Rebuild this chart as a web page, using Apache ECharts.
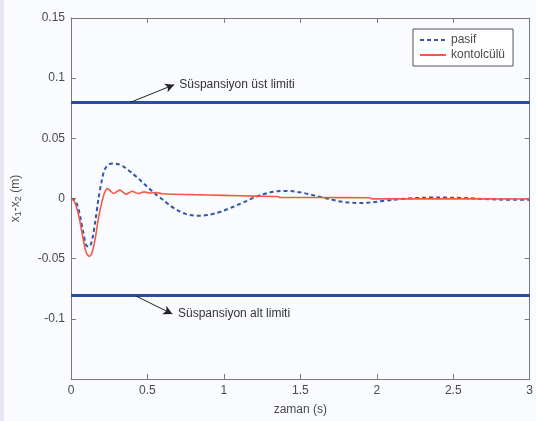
<!DOCTYPE html>
<html>
<head>
<meta charset="utf-8">
<script src="https://cdn.jsdelivr.net/npm/echarts@6/dist/echarts.min.js"></script>
<style>
html,body{margin:0;padding:0;background:#f9fbfe;}
#c{width:536px;height:421px;}
</style>
</head>
<body>
<div id="c"></div>
<script>
// ---- data ----
var timePasif = [0,0.02,0.04,0.06,0.08,0.1,0.12,0.14,0.16,0.18,0.2,0.22,0.25,0.28,0.31,0.35,0.4,0.45,0.5,0.55,0.6,0.65,0.7,0.75,0.8,0.85,0.9,0.95,1.0,1.05,1.1,1.15,1.2,1.25,1.3,1.35,1.4,1.45,1.5,1.55,1.6,1.65,1.7,1.75,1.8,1.85,1.9,1.95,2.0,2.1,2.2,2.3,2.4,2.5,2.6,2.7,2.8,2.9,3.0];
var pasif = [0,-0.001,-0.005,-0.015,-0.028,-0.039,-0.040,-0.033,-0.018,0.000,0.014,0.024,0.0285,0.029,0.0285,0.026,0.021,0.0155,0.0095,0.004,-0.001,-0.006,-0.010,-0.0128,-0.0142,-0.0143,-0.0135,-0.0122,-0.0100,-0.0075,-0.0048,-0.0020,0.0010,0.0032,0.0050,0.0060,0.0063,0.0060,0.0051,0.0038,0.0022,0.0007,-0.0008,-0.0022,-0.0031,-0.0036,-0.0037,-0.0034,-0.0027,-0.0012,0.0000,0.0006,0.0008,0.0006,0.0002,-0.0004,-0.0009,-0.0011,-0.0010];
var timeKontrol = [0,0.02,0.04,0.06,0.08,0.1,0.12,0.14,0.16,0.18,0.2,0.22,0.24,0.26,0.28,0.30,0.32,0.34,0.36,0.38,0.40,0.42,0.44,0.46,0.48,0.50,0.52,0.55,0.6,0.8,1.0,1.2,1.35,1.37,1.6,1.95,1.97,2.5,3.0];
var kontrol = [0,-0.002,-0.009,-0.020,-0.034,-0.045,-0.048,-0.044,-0.032,-0.016,-0.004,0.005,0.0082,0.006,0.0042,0.0058,0.0070,0.0052,0.0036,0.0048,0.0060,0.0050,0.0041,0.0050,0.0055,0.0049,0.0046,0.0050,0.0040,0.0032,0.0026,0.0020,0.0017,0.0009,0.0008,0.0006,-0.0003,-0.0003,-0.0004];
var seriesNames = ['pasif','kontolcülü'];
var limits = [0.08, -0.08];
var limitLabels = ['Süspansiyon üst limiti','Süspansiyon alt limiti'];
var arrowStart = [[0.39,0.08],[0.424,-0.081]];
var arrowEnd = [[0.675,0.0946],[0.663,-0.096]];
var labelPos = [[0.708,0.0946],[0.70,-0.096]];
var xTicks = {min:0,max:3,interval:0.5};
var yTicks = {min:-0.15,max:0.15,interval:0.05};
var xName = 'zaman (s)';

function pairs(t,v){return t.map(function(x,i){return [x,v[i]];});}
var axisColor = '#7a7a7a';
var textColor = '#4a4a4a';
var font = 'Liberation Sans, Arial, sans-serif';

var chart = echarts.init(document.getElementById('c'), null, {renderer:'canvas'});
var axisBase = {
  axisLine:{show:true,onZero:false,lineStyle:{color:axisColor,width:1}},
  axisTick:{show:true,inside:true,length:5,lineStyle:{color:axisColor}},
  splitLine:{show:false}
};
var option = {
  backgroundColor:'#f9fbfe',
  animation:false,
  textStyle:{fontFamily:font},
  graphic:[{type:'rect',shape:{x:0,y:0,width:4,height:421},style:{fill:'#e9e6f3'}}],
  grid:{left:71,right:3,top:18,bottom:38},
  legend:{
    data:seriesNames, orient:'vertical', left:413, top:29, width:115,
    backgroundColor:'#ffffff', borderColor:'#555', borderWidth:1, borderRadius:0,
    padding:[5,8,5,6], itemGap:3, itemWidth:26, itemHeight:10,
    itemStyle:{opacity:0,borderWidth:0},
    textStyle:{fontFamily:font,fontSize:12,color:textColor}
  },
  xAxis:[
    Object.assign({type:'value',min:xTicks.min,max:xTicks.max,interval:xTicks.interval,
      name:xName,nameLocation:'middle',nameGap:25,
      nameTextStyle:{fontFamily:font,fontSize:12,color:textColor},
      axisLabel:{color:textColor,fontSize:12,fontFamily:font,margin:6,
        formatter:function(v){return String(parseFloat(v.toFixed(2)));}}},axisBase),
    Object.assign({type:'value',position:'top',min:xTicks.min,max:xTicks.max,interval:xTicks.interval,
      axisLabel:{show:false}},axisBase)
  ],
  yAxis:[
    Object.assign({type:'value',min:yTicks.min,max:yTicks.max,interval:yTicks.interval,
      name:'{n|x}{s|1}{n|-x}{s|2}{n| (m)}',nameLocation:'middle',nameGap:48,nameRotate:90,
      nameTextStyle:{color:textColor,rich:{n:{fontSize:12,fontFamily:font,color:textColor},s:{fontSize:9,fontFamily:font,color:textColor,padding:[6,0,0,0]}}},
      axisLabel:{color:textColor,fontSize:12,fontFamily:font,margin:6,
        formatter:function(v){var r=parseFloat(v.toFixed(2));return r<=-0.149?'':String(r);}}},axisBase),
    Object.assign({type:'value',position:'right',min:yTicks.min,max:yTicks.max,interval:yTicks.interval,
      axisLabel:{show:false}},axisBase)
  ],
  series:[
    {name:seriesNames[0],type:'line',data:pairs(timePasif,pasif),showSymbol:false,symbol:'none',smooth:0.3,
      lineStyle:{color:'#2f55b0',width:2,type:[4,3]},itemStyle:{color:'#2f55b0'},z:3},
    {name:seriesNames[1],type:'line',data:pairs(timeKontrol,kontrol),showSymbol:false,symbol:'none',smooth:0.3,
      lineStyle:{color:'#f25a44',width:1.6},itemStyle:{color:'#f25a44'},z:4},
    {name:'limits',type:'line',data:[],
      markLine:{silent:true,symbol:['none','none'],lineStyle:{color:'#2c4c9f',width:3,type:'solid'},label:{show:false},
        data:limits.map(function(v){return {yAxis:v};})}},
    {name:'arrows',type:'line',data:[],
      markLine:{silent:true,symbol:['none','arrow'],symbolSize:[7,9],lineStyle:{color:'#222',width:1,type:'solid'},label:{show:false},
        data:arrowStart.map(function(s,i){return [{coord:s},{coord:arrowEnd[i]}];})},
      markPoint:{silent:true,symbol:'circle',symbolSize:0,
        label:{show:true,position:'right',distance:0,color:'#333',fontSize:12,fontFamily:font,
          formatter:function(p){return p.name;}},
        data:labelPos.map(function(p,i){return {name:limitLabels[i],coord:p};})}}
  ]
};
chart.setOption(option);
</script>
</body>
</html>
